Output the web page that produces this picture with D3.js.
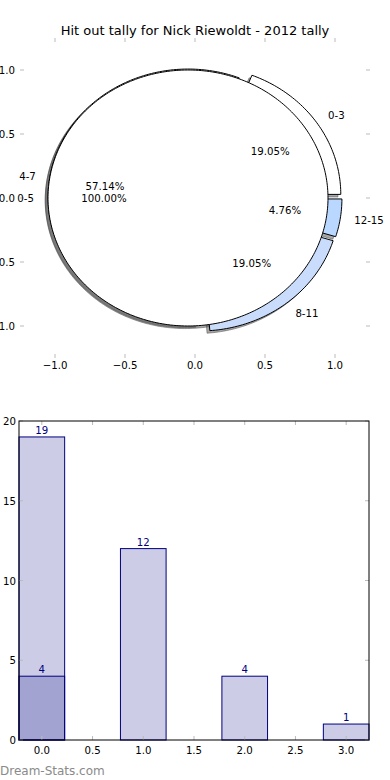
<!DOCTYPE html>
<html><head><meta charset="utf-8">
<script src="https://cdn.jsdelivr.net/npm/d3@7"></script>
<style>body{margin:0;background:#fff}svg{display:block;font-family:"DejaVu Sans",sans-serif}</style>
</head><body><svg id="c" width="390" height="780"></svg>
<script>
const title = "Hit out tally for Nick Riewoldt - 2012 tally";
const pieLabels = ["0-3","4-7","8-11","12-15"];
const pieValues = [4,12,4,1];
const pieColors = ["#ffffff","#ffffff","#c9dcfb","#b9d7ff"];
const outerLabels = ["0-5"];
const outerValues = [21];
const pieTicks = [-1,-0.5,0,0.5,1];
const barX = [0,1,2,3];
const barValues = [19,12,4,1];
const barX2 = [0];
const barValues2 = [4];
const barXTicks = [0,0.5,1,1.5,2,2.5,3];
const barYTicks = [0,5,10,15,20];

const svg = d3.select("#c");
const fmt1 = d => d3.format(".1f")(d).replace("-", "\u2212");
const fs = 10.2;

svg.append("text").attr("x",195).attr("y",35).attr("text-anchor","middle")
  .attr("font-size",13).attr("fill","#000").text(title);

// ---- pie axes ----
const px = d3.scaleLinear().domain([-1.25,1.25]).range([20,370]);
const py = d3.scaleLinear().domain([-1.25,1.25]).range([358,38]);
const gP = svg.append("g");
const tickCol = "#bbbbbb";
pieTicks.forEach(t=>{
  gP.append("line").attr("x1",px(t)).attr("x2",px(t)).attr("y1",py.range()[1]).attr("y2",py.range()[1]+4).attr("stroke",tickCol);
  gP.append("line").attr("x1",px(t)).attr("x2",px(t)).attr("y1",py.range()[0]).attr("y2",py.range()[0]-4).attr("stroke",tickCol);
  gP.append("line").attr("y1",py(t)).attr("y2",py(t)).attr("x1",px.range()[0]).attr("x2",px.range()[0]+4).attr("stroke",tickCol);
  gP.append("line").attr("y1",py(t)).attr("y2",py(t)).attr("x1",px.range()[1]).attr("x2",px.range()[1]-4).attr("stroke",tickCol);
  gP.append("text").attr("x",px(t)).attr("y",py.range()[0]+11).attr("text-anchor","middle").attr("font-size",fs).text(fmt1(t));
  gP.append("text").attr("x",px.range()[0]-5).attr("y",py(t)+4).attr("text-anchor","end").attr("font-size",fs).text(fmt1(t));
});

const explode = 0.05;
function wedgePath(a0,a1,cx,cy,dx,dy){
  const n = Math.max(4, Math.ceil((a1-a0)/0.02));
  const pts = [[px(cx+dx),py(cy+dy)]];
  for(let i=0;i<=n;i++){const a=a0+(a1-a0)*i/n;pts.push([px(cx+dx+Math.cos(a)),py(cy+dy+Math.sin(a))]);}
  if (a1-a0 >= 2*Math.PI-1e-6) pts.shift();
  return d3.line()(pts)+"Z";
}
const pieGen = d3.pie().sort(null).startAngle(0).endAngle(2*Math.PI);
const arcs1 = pieGen(pieValues).map((d,i)=>({...d,label:pieLabels[i],color:pieColors[i],full:false,total:d3.sum(pieValues)}));
const arcs2 = pieGen(outerValues).map((d,i)=>({...d,label:outerLabels[i],color:"#ffffff",full:true,total:d3.sum(outerValues)}));
function geom(d){const m=(d.startAngle+d.endAngle)/2;return {m,cx:explode*Math.cos(m),cy:explode*Math.sin(m)};}
const all = [...arcs1,...arcs2];
// shadows
all.forEach(d=>{const g=geom(d);
  gP.append("path").attr("d",wedgePath(d.startAngle,d.endAngle,g.cx,g.cy,-0.02,-0.02))
    .attr("fill","#4d4d4d").attr("fill-opacity",0.5).attr("stroke","#4d4d4d").attr("stroke-opacity",0.5);
});
// wedges
all.forEach(d=>{const g=geom(d);
  gP.append("path").attr("d",wedgePath(d.startAngle,d.endAngle,g.cx,g.cy,0,0))
    .attr("fill",d.color).attr("stroke","#000").attr("stroke-width",1);
});
// labels
all.forEach(d=>{const g=geom(d);
  const lx=g.cx+1.1*Math.cos(g.m), ly=g.cy+1.1*Math.sin(g.m);
  gP.append("text").attr("x",px(lx)).attr("y",py(ly)+4).attr("font-size",fs)
    .attr("text-anchor",lx>0?"start":"end").text(d.label);
  const tx=g.cx+0.6*Math.cos(g.m), ty=g.cy+0.6*Math.sin(g.m);
  gP.append("text").attr("x",px(tx)).attr("y",py(ty)+4).attr("font-size",fs).attr("text-anchor","middle")
    .text((100*d.value/d.total).toFixed(2)+"%");
});

// ---- bar chart ----
const bx = d3.scaleLinear().domain([-0.225,3.225]).range([19,369]);
const by = d3.scaleLinear().domain([0,20]).range([740,421]);
const gB = svg.append("g");
const bw = 0.45;
function bars(xs,vs){xs.forEach((x,i)=>{
  gB.append("rect").attr("x",bx(x-bw/2)).attr("width",bx(x+bw/2)-bx(x-bw/2))
    .attr("y",by(vs[i])).attr("height",by(0)-by(vs[i]))
    .attr("fill","navy").attr("fill-opacity",0.2).attr("stroke","navy").attr("stroke-width",1);
  gB.append("text").attr("x",bx(x)).attr("y",by(vs[i])-3).attr("text-anchor","middle")
    .attr("font-size",fs).attr("fill","navy").text(vs[i]);
});}
bars(barX,barValues); bars(barX2,barValues2);
barXTicks.forEach(t=>{
  gB.append("line").attr("x1",bx(t)).attr("x2",bx(t)).attr("y1",by(0)).attr("y2",by(0)-4).attr("stroke",tickCol);
  gB.append("line").attr("x1",bx(t)).attr("x2",bx(t)).attr("y1",by(20)).attr("y2",by(20)+4).attr("stroke",tickCol);
  gB.append("text").attr("x",bx(t)).attr("y",by(0)+14).attr("text-anchor","middle").attr("font-size",fs).text(t.toFixed(1));
});
barYTicks.forEach(t=>{
  gB.append("line").attr("y1",by(t)).attr("y2",by(t)).attr("x1",bx.range()[0]).attr("x2",bx.range()[0]+4).attr("stroke",tickCol);
  gB.append("line").attr("y1",by(t)).attr("y2",by(t)).attr("x1",bx.range()[1]).attr("x2",bx.range()[1]-4).attr("stroke",tickCol);
  gB.append("text").attr("x",bx.range()[0]-3).attr("y",by(t)+4).attr("text-anchor","end").attr("font-size",fs).text(t);
});
gB.append("rect").attr("x",bx.range()[0]).attr("y",by(20)).attr("width",bx.range()[1]-bx.range()[0])
  .attr("height",by(0)-by(20)).attr("fill","none").attr("stroke","#000").attr("stroke-width",1);

svg.append("text").attr("x",0).attr("y",775).attr("font-size",12).attr("fill","#8a8a8a").text("Dream-Stats.com");
</script></body></html>
